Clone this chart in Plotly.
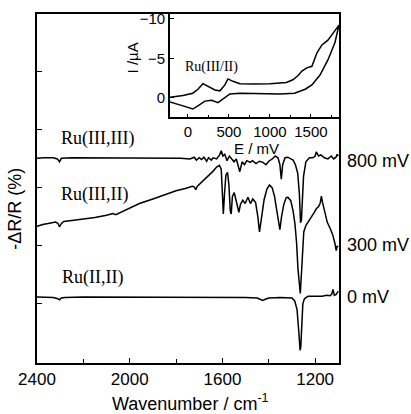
import plotly.graph_objects as go

# ---- IR spectra (wavenumber / cm-1, -dR/R in offset units) ----
wn_800 = [2400, 2370, 2330, 2312, 2303, 2295, 2250, 2150, 2050, 1950, 1850, 1780, 1740,
          1722, 1712, 1700, 1690, 1680, 1668, 1660, 1648, 1640, 1625, 1612, 1605, 1598,
          1590, 1580, 1570, 1560, 1550, 1540, 1530, 1525, 1515, 1505, 1495, 1480, 1470,
          1455, 1440, 1425, 1412, 1400, 1385, 1372, 1360, 1352, 1346, 1340, 1330, 1318,
          1305, 1295, 1285, 1275, 1268, 1263, 1259, 1255, 1250, 1240, 1225, 1210, 1200,
          1195, 1185, 1175, 1160, 1145, 1130, 1120, 1110, 1105, 1100]
dr_800 = [2.51, 2.52, 2.52, 2.50, 2.45, 2.51, 2.52, 2.52, 2.52, 2.52, 2.52, 2.51, 2.50,
          2.53, 2.48, 2.52, 2.49, 2.53, 2.46, 2.52, 2.48, 2.52, 2.50, 2.57, 2.64, 2.55,
          2.58, 2.47, 2.55, 2.50, 2.45, 2.50, 2.33, 2.28, 2.45, 2.40, 2.47, 2.44, 2.47,
          2.42, 2.46, 2.44, 2.40, 2.46, 2.50, 2.55, 2.52, 2.40, 2.15, 2.40, 2.52, 2.53,
          2.50, 2.48, 2.40, 2.25, 1.90, 1.40, 1.45, 1.80, 2.20, 2.45, 2.52, 2.52, 2.55,
          2.62, 2.55, 2.57, 2.52, 2.50, 2.55, 2.50, 2.53, 2.58, 2.55]

wn_300 = [2400, 2375, 2346, 2320, 2310, 2303, 2296, 2285, 2250, 2200, 2150, 2100, 2073,
          2060, 2040, 2000, 1958, 1900, 1850, 1800, 1760, 1730, 1722, 1715, 1708, 1695,
          1660, 1640, 1625, 1613, 1605, 1600, 1596, 1591, 1585, 1578, 1572, 1566, 1562,
          1557, 1549, 1542, 1535, 1529, 1522, 1512, 1502, 1490, 1479, 1469, 1457, 1447,
          1440, 1432, 1420, 1408, 1397, 1385, 1375, 1365, 1357, 1352, 1345, 1335, 1325,
          1318, 1305, 1295, 1287, 1280, 1274, 1268, 1264, 1260, 1255, 1249, 1240, 1230,
          1217, 1205, 1195, 1185, 1178, 1173, 1168, 1160, 1148, 1135, 1124, 1115, 1109,
          1105, 1101]
dr_300 = [1.34, 1.37, 1.39, 1.41, 1.39, 1.33, 1.38, 1.42, 1.44, 1.46, 1.49, 1.53, 1.56,
          1.54, 1.58, 1.65, 1.73, 1.81, 1.88, 1.95, 1.99, 2.03, 2.02, 1.97, 2.03, 2.08,
          2.20, 2.29, 2.36, 2.39, 2.32, 2.00, 1.55, 1.90, 2.22, 2.27, 2.05, 1.60, 1.55,
          1.85, 1.92, 1.80, 1.70, 1.58, 1.72, 1.79, 1.73, 1.84, 1.73, 1.81, 1.75, 1.50,
          1.24, 1.45, 1.80, 1.98, 2.05, 2.00, 1.85, 1.60, 1.35, 1.28, 1.50, 1.72, 1.83,
          1.84, 1.78, 1.60, 1.38, 1.05, 0.60, 0.25, 0.18, 0.45, 0.95, 1.24, 1.35, 1.42,
          1.50, 1.57, 1.64, 1.68, 1.74, 1.86, 1.75, 1.62, 1.41, 1.30, 1.19, 1.05, 0.92,
          1.00, 0.98]

wn_0 = [2400, 2360, 2330, 2310, 2303, 2295, 2280, 2200, 2100, 2000, 1900, 1800, 1700,
        1600, 1500, 1450, 1435, 1426, 1415, 1400, 1350, 1300, 1288, 1278, 1270, 1265,
        1262, 1258, 1253, 1247, 1240, 1230, 1210, 1190, 1170, 1150, 1135, 1128, 1123,
        1117, 1110, 1105, 1100]
dr_0 = [0.12, 0.11, 0.11, 0.09, 0.07, 0.10, 0.11, 0.12, 0.12, 0.12, 0.12, 0.12, 0.12,
        0.12, 0.11, 0.10, 0.07, 0.06, 0.08, 0.10, 0.11, 0.10, 0.05, -0.10, -0.50, -0.80,
        -0.75, -0.40, 0.00, 0.08, 0.11, 0.13, 0.13, 0.14, 0.13, 0.15, 0.14, 0.17, 0.25,
        0.15, 0.16, 0.19, 0.22]

# ---- Cyclic voltammogram (E / mV, I / uA) ----
E_fwd = [-220, -60, 60, 122, 183, 244, 329, 390, 451, 488, 550, 634, 800, 1000, 1200,
         1280, 1340, 1390, 1450, 1512, 1573, 1634, 1707, 1793, 1841]
I_fwd = [-0.1, -0.3, -0.6, -1.1, -1.8, -1.5, -1.0, -0.9, -1.65, -2.4, -2.1, -1.8, -1.75,
         -1.8, -1.95, -2.3, -2.8, -3.4, -3.8, -4.0, -5.7, -6.7, -7.3, -8.5, -9.2]
E_rev = [1841, 1793, 1707, 1610, 1512, 1430, 1366, 1300, 1122, 900, 634, 512, 450, 366,
         290, 207, 122, 60, -60, -220]
I_rev = [-9.2, -7.0, -4.8, -2.9, -1.65, -1.1, -0.9, -0.6, -0.5, -0.55, -0.6, -0.5, 0.0,
         0.6, 0.3, 0.4, 1.0, 1.4, 1.0, 0.5]

main_ticks = [2400, 2000, 1600, 1200]
inset_xticks = [0, 500, 1000, 1500]
inset_yticks = [-10, -5, 0]

line = dict(color="black", width=1.5)
fig = go.Figure()
for wn, dr in [(wn_800, dr_800), (wn_300, dr_300), (wn_0, dr_0)]:
    fig.add_trace(go.Scatter(x=wn, y=dr, mode="lines", line=line, showlegend=False,
                             xaxis="x", yaxis="y"))
fig.add_trace(go.Scatter(x=E_fwd + E_rev, y=I_fwd + I_rev, mode="lines", line=line,
                         showlegend=False, xaxis="x2", yaxis="y2"))

sans = "Liberation Sans, Arial, sans-serif"
serif = "Liberation Serif, Times New Roman, serif"
ax_common = dict(showline=True, mirror=True, linecolor="black", linewidth=1.5,
                 ticks="inside", tickcolor="black", showgrid=False, zeroline=False)

fig.update_layout(
    width=411, height=414,
    margin=dict(l=37, r=72, t=10, b=51),
    paper_bgcolor="white", plot_bgcolor="white",
    xaxis=dict(range=[2400, 1097], tickvals=main_ticks, ticklen=5,
               minor=dict(tick0=2400, dtick=200, ticks="inside", ticklen=4,
                          tickcolor="black", showgrid=False),
               tickfont=dict(family=sans, size=17, color="black"), **ax_common),
    yaxis=dict(range=[-1.02, 5.0], tickvals=[0, 1, 2, 3, 4], showticklabels=False,
               ticklen=5, **ax_common),
    xaxis2=dict(domain=[0.44, 1.0], anchor="y2", range=[-220, 1842],
                tickvals=inset_xticks, ticklen=3,
                minor=dict(tick0=0, dtick=250, ticks="inside", ticklen=2,
                           tickcolor="black", showgrid=False),
                tickfont=dict(family=sans, size=15, color="black"), **ax_common),
    yaxis2=dict(domain=[0.705, 1.0], anchor="x2", range=[2.4, -10.6],
                tickvals=inset_yticks, ticklen=4,
                tickfont=dict(family=sans, size=15, color="black"), **ax_common),
    font=dict(family=sans, color="black"),
)

ann = [
    dict(text="Ru(III,III)", x=0.073, y=0.643, xanchor="left", font=dict(family=serif, size=18)),
    dict(text="Ru(III,II)", x=0.073, y=0.484, xanchor="left", font=dict(family=serif, size=18)),
    dict(text="Ru(II,II)", x=0.076, y=0.246, xanchor="left", font=dict(family=serif, size=18)),
    dict(text="800 mV", x=1.02, y=0.578, xanchor="left", font=dict(family=sans, size=18)),
    dict(text="300 mV", x=1.02, y=0.337, xanchor="left", font=dict(family=sans, size=18)),
    dict(text="0 mV", x=1.02, y=0.190, xanchor="left", font=dict(family=sans, size=18)),
    dict(text="Ru(III/II)", x=0.579, y=0.847, xanchor="center", font=dict(family=serif, size=14)),
    dict(text="-ΔR/R (%)", x=-0.073, y=0.442, xanchor="center", textangle=-90,
         font=dict(family=sans, size=18)),
    dict(text="Wavenumber / cm<sup>-1</sup>", x=0.507, y=-0.112, xanchor="center",
         font=dict(family=sans, size=18)),
    dict(text="I /µA", x=0.315, y=0.873, xanchor="center", textangle=-90,
         font=dict(family=sans, size=15)),
    dict(text="E / mV", x=0.728, y=0.616, xanchor="center", font=dict(family=sans, size=15)),
]
for a in ann:
    a.update(xref="paper", yref="paper", yanchor="middle", showarrow=False)
    a["font"]["color"] = "black"
    fig.add_annotation(**a)

fig.write_html("out.html", config={"displayModeBar": False},
               post_script="document.body.style.margin='0';")
